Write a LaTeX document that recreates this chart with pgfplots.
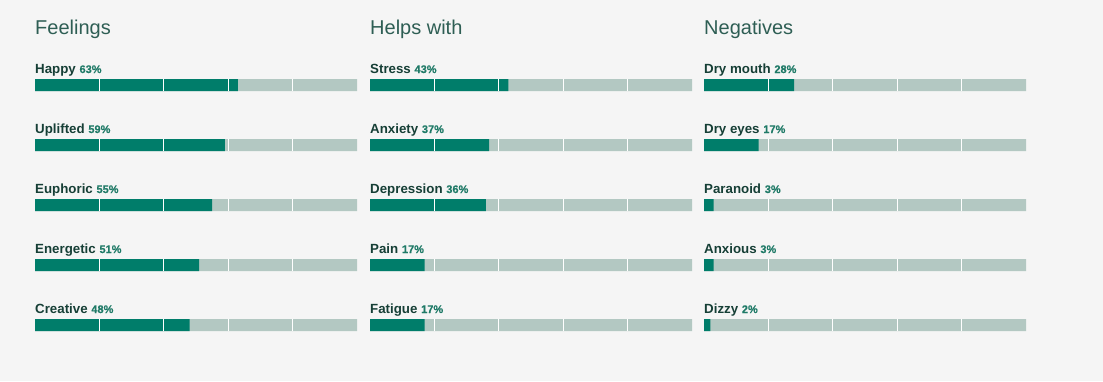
\documentclass[border=0pt]{standalone}
\usepackage{pgfplots}
\usepackage{pgfplotstable}
\pgfplotsset{compat=1.18}
\usepackage{fontspec}
\setmainfont{Liberation Sans}
\newfontfamily\pctfont[FakeBold=0.3]{Liberation Sans}
\definecolor{bg}{HTML}{F5F5F5}
\definecolor{barc}{HTML}{007D6A}
\definecolor{track}{HTML}{B3C8C2}
\definecolor{lbl}{HTML}{163F36}
\definecolor{pct}{HTML}{1F7A67}
\definecolor{ttl}{HTML}{2E5E54}

\pgfplotstableread{
row value
0 63
1 59
2 55
3 51
4 48
}\feelings
\pgfplotstableread{
row value
0 43
1 37
2 36
3 17
4 17
}\helps
\pgfplotstableread{
row value
0 28
1 17
2 3
3 3
4 2
}\negatives
\pgfplotstableread{
row value
0 100
1 100
2 100
3 100
4 100
}\full
\pgfplotstableread{
x row
20 0
40 0
60 0
80 0
20 1
40 1
60 1
80 1
20 2
40 2
60 2
80 2
20 3
40 3
60 3
80 3
20 4
40 4
60 4
80 4
}\dividers

\pgfplotsset{panel/.style={
  scale only axis, width=322pt, height=252pt,
  xmin=0, xmax=100, ymin=-0.1, ymax=4.1, y dir=reverse,
  hide axis, anchor=south west, clip=false}}
\newcommand\lab[3]{\node[anchor=base west, inner sep=0pt, yshift=12pt, text=lbl] at (axis cs:0,#1) {\bfseries\fontsize{13.3}{13}\selectfont #2\ {\pctfont\fontsize{11}{11}\selectfont\color{pct}#3\%}};}
\newcommand\ttl[1]{\node[anchor=base west, inner sep=0pt, yshift=51pt, text=ttl] at (axis cs:0,0) {\fontsize{20}{20}\selectfont #1};}
\newcommand\bars[1]{%
  \addplot[xbar, bar width=12pt, bar shift=0pt, fill=track, draw=none] table[x=value, y=row] {\full};
  \addplot[xbar, bar width=12pt, bar shift=0pt, fill=barc, draw=none] table[x=value, y=row] {#1};
  \addplot[only marks, mark=|, mark size=6pt, mark options={draw=white, line width=1pt}] table[x=x, y=row] {\dividers};
}

\begin{document}
\begin{tikzpicture}
\fill[bg] (0,0) rectangle (1103pt,381pt);
\begin{axis}[panel, at={(35pt,50pt)}]
\bars{\feelings}
\ttl{Feelings}
\lab{0}{Happy}{63}
\lab{1}{Uplifted}{59}
\lab{2}{Euphoric}{55}
\lab{3}{Energetic}{51}
\lab{4}{Creative}{48}
\end{axis}
\begin{axis}[panel, at={(370pt,50pt)}]
\bars{\helps}
\ttl{Helps with}
\lab{0}{Stress}{43}
\lab{1}{Anxiety}{37}
\lab{2}{Depression}{36}
\lab{3}{Pain}{17}
\lab{4}{Fatigue}{17}
\end{axis}
\begin{axis}[panel, at={(704pt,50pt)}]
\bars{\negatives}
\ttl{Negatives}
\lab{0}{Dry mouth}{28}
\lab{1}{Dry eyes}{17}
\lab{2}{Paranoid}{3}
\lab{3}{Anxious}{3}
\lab{4}{Dizzy}{2}
\end{axis}
\pgfresetboundingbox
\path (0,0) rectangle (1103pt,381pt);
\end{tikzpicture}
\end{document}
